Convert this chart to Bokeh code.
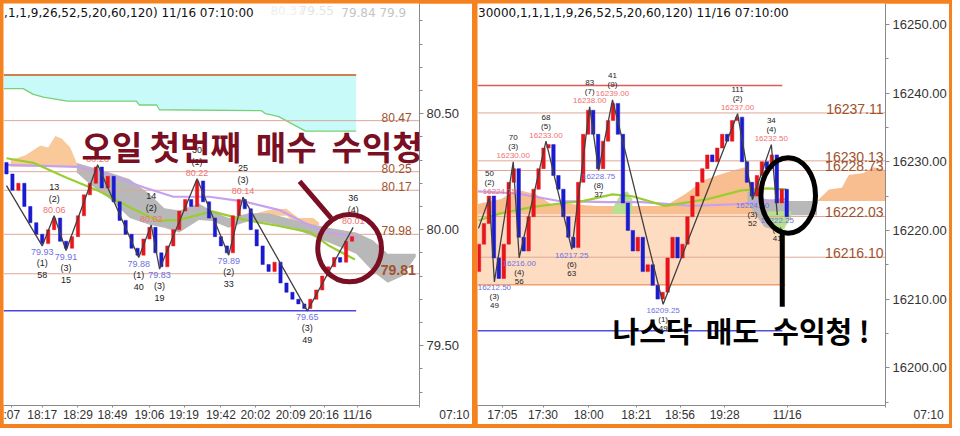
from bokeh.plotting import figure
from bokeh.layouts import row
from bokeh.models import ColumnDataSource, Label, FixedTicker, Range1d, NumeralTickFormatter
from bokeh.core.properties import value
from bokeh.embed import file_html
from bokeh.resources import INLINE

# ================= LEFT PANEL DATA (oil, 1-min bars) =================
L_close = [80.24, 80.17, 80.20, 80.10, 80.03, 79.98, 79.94, 80.00, 80.05, 79.95,
           79.92, 79.97, 80.06, 80.15, 80.20, 80.27, 80.18, 80.23, 80.12, 80.04,
           79.98, 79.92, 79.89, 79.96, 80.01, 79.90, 79.84, 79.93, 80.00, 80.08,
           80.13, 80.10, 80.21, 80.12, 80.05, 79.97, 79.93, 79.90, 80.06, 80.13,
           80.09, 80.00, 79.93, 79.85, 79.82, 79.86, 79.77, 79.73, 79.70, 79.68,
           79.66, 79.70, 79.74, 79.80, 79.84, 79.88, 79.86, 79.95, 79.97]
L_open0 = 80.29
L_piv_x = [0, 6, 8, 10, 15.3, 22.2, 24.3, 25.7, 32, 37.3, 39.7, 50.5, 58.2]
L_piv_y = [80.19, 79.93, 80.06, 79.91, 80.28, 79.88, 80.02, 79.83, 80.22, 79.89, 80.14, 79.65, 80.01]
L_waves = ["", "(1)", "(2)", "(3)", "", "(1)", "(2)", "(3)", "(1)", "(2)", "(3)", "(3)", "(4)"]
L_cnts = ["", "58", "13", "15", "", "40", "14", "19", "30", "33", "25", "49", "36"]
L_ma_p_x = [0, 12, 17, 23, 28, 34, 40, 46, 51, 54, 59]
L_ma_p_y = [80.279, 80.271, 80.238, 80.183, 80.142, 80.142, 80.121, 80.083, 80.017, 79.988, 79.967]
L_ma_g_x = [0, 4.5, 10, 15.5, 21, 25.5, 29, 34.5, 40, 45.5, 51, 54, 58.5]
L_ma_g_y = [80.308, 80.288, 80.225, 80.167, 80.092, 80.038, 80.042, 80.079, 80.042, 80.017, 79.988, 79.933, 79.871]
L_gray_x = [11.8, 14, 17.3, 20.7, 24, 26.5, 29, 32.3, 34.5, 37.3, 40.7, 44, 49, 54, 58.7, 61.5, 64, 66.5, 68.7]
L_gray_top = [80.2875, 80.271, 80.246, 80.217, 80.154, 80.092, 80.083, 80.113, 80.079, 80.05, 80.071,
              80.071, 80.0375, 80.008, 79.9875, 79.954, 79.896, 79.896, 79.896]
L_gray_bot = [80.246, 80.196, 80.133, 80.05, 80.021, 80.008, 79.9875, 80.042, 80.0375, 80.008, 80.0375,
              80.029, 79.996, 79.946, 79.896, 79.821, 79.771, 79.8, 79.883]
L_peach_x = [0.7, 3.2, 5.7, 7, 8.2, 9.3, 10.7, 11.8]
L_peach_top = [80.30, 80.321, 80.3625, 80.354, 80.404, 80.392, 80.354, 80.2875]
L_peach_bot = [80.271, 80.271, 80.271, 80.271, 80.271, 80.271, 80.271, 80.271]
L_peach2_x = [41.8, 44, 47, 49, 51.5, 52.5]
L_peach2_top = [80.07, 80.085, 80.09, 80.05, 80.05, 80.03]
L_peach2_bot = [80.05, 80.06, 80.06, 80.02, 80.02, 80.02]
L_cyan_x = [-0.5, 2.8, 4.5, 6.2, 10.2, 21.8, 22.3, 25.2, 25.7, 42.8, 43.5, 45.7, 50.2, 58.7]
L_cyan_bot = [80.608, 80.608, 80.583, 80.571, 80.554, 80.554, 80.5375, 80.5375, 80.517, 80.513, 80.5,
              80.4875, 80.425, 80.425]
L_cyan_top = 80.667
L_hi_line = 80.667
L_lo_line = 79.65
L_line_end = 58.7
L_levels = [80.47, 80.25, 80.17, 79.98, 79.81]
L_xticks = [0.9, 6, 12, 17.8, 24, 29.8, 36, 41.8, 47.7, 53.3, 58.9, 69.3]
L_xlabels = [":07", "18:17", "18:29", "18:49", "19:06", "19:19", "19:42", "20:02", "20:09", "20:16", "11/16",
             "\u00a0" * 21 + "07:10"]
L_yticks = [79.5, 80.0, 80.5]
L_yminor = [79.3, 79.4, 79.6, 79.7, 79.8, 79.9, 80.1, 80.2, 80.3, 80.4, 80.6, 80.7, 80.8, 80.9]
L_title = ",1,1,9,26,52,5,20,60,120) 11/16 07:10:00"
L_quotes = ["80.37", "79.55", "79.84 79.9"]
L_note = "오일 첫번째\u00a0\u00a0매수\u00a0\u00a0수익청"

# ================= RIGHT PANEL DATA (Nasdaq, 1-min bars) =================
R_close = [16218, 16221, 16225, 16216, 16213, 16218, 16227, 16229, 16219, 16217,
           16222, 16226, 16229, 16232, 16232.5, 16228, 16226, 16222, 16219, 16217.5,
           16227, 16234, 16237.5, 16234, 16229, 16233, 16236, 16238.5, 16234, 16224,
           16220, 16217, 16219, 16214, 16215, 16212, 16210, 16211, 16216, 16219,
           16216, 16218, 16222, 16225, 16227, 16229, 16231, 16230, 16232, 16234,
           16233, 16236, 16236.5, 16230, 16227, 16225, 16228, 16230, 16229, 16231,
           16224, 16226, 16222]
R_open0 = 16214
R_piv_x = [0.4, 2.6, 3.6, 7.4, 8.6, 14, 19.2, 22.8, 24.6, 27.4, 37.6, 52.6, 55.6, 59.4, 60.6]
R_piv_y = [16220.3, 16224.75, 16212.50, 16230.00, 16216.00, 16233.00, 16217.25, 16238.00, 16228.75,
           16239.00, 16209.25, 16237.00, 16224.50, 16232.50, 16222.25]
R_waves = ["", "(2)", "(3)", "(3)", "(4)", "(5)", "(6)", "(7)", "(8)", "(9)", "(1)", "(2)", "(3)", "(4)", "(5)"]
R_cnts = ["", "50", "49", "70", "56", "68", "63", "83", "37", "41", "49", "111", "52", "34", "41"]
R_ma_g_x = [0.4, 4.6, 11.4, 16, 21.4, 27.4, 31.4, 38, 46.6, 53.4, 58.6, 62.4]
R_ma_g_y = [16221.45, 16222.44, 16223.43, 16223.85, 16224.27, 16225.26, 16224.98, 16223.57, 16224.56,
            16225.83, 16226.11, 16225.97]
R_ma_p_x = [0.2, 8, 16.6, 26.6, 33.4, 43.4, 53.4, 58, 62.4]
R_ma_p_y = [16225.69, 16225.40, 16224.28, 16224.13, 16224.13, 16223.57, 16223.85, 16224.28, 16224.56]
R_base_x = [0.2, 62.2]
R_base_top = 16222.4
R_base_bot = 16212.1
R_orange_x = [0.2, 5, 8, 12, 15, 19, 24, 32, 38, 42, 46, 50, 54, 56, 57]
R_orange_top = [16223.85, 16224.56, 16225.97, 16225.26, 16223.85, 16223.85, 16223.57, 16223.57, 16223.57,
                16225.26, 16227.38, 16228.37, 16229.21, 16225.97, 16224.56]
R_green1_x = [27.4, 29, 30.4, 31.4]
R_green1_top = [16223.15, 16225.26, 16225.69, 16224.56]
R_gray_x = [54.6, 58, 61, 63.4, 68.6]
R_gray_top = [16225.7, 16224.6, 16224.3, 16224.3, 16224.3]
R_gray_bot = [16224.0, 16220.5, 16219.9, 16222.2, 16222.2]
R_green2_x = [58.6, 61, 63.4]
R_green2_top = [16222.8, 16222.8, 16222.8]
R_green2_bot = [16222.4, 16219.3, 16221.8]
R_future_x = [68.6, 71, 73.6, 75, 78, 80, 82.4]
R_future_top = [16224.27, 16225.97, 16226.2, 16228.08, 16228.37, 16229.21, 16228.79]
R_future_bot = 16224.27
R_hi_line = 16241.1
R_lo_line = 16205.4
R_line_end = 61.6
R_levels = [16237.11, 16230.13, 16228.73, 16222.03, 16216.10]
R_xticks = [5.2, 13.4, 22.6, 32.2, 41, 50, 62.6, 82.35]
R_xlabels = ["17:05", "17:30", "18:00", "18:21", "18:56", "19:28", "11/16", "\u00a0" * 26 + "07:10"]
R_yticks = [16200, 16210, 16220, 16230, 16240, 16250]
R_yminor = [16195, 16205, 16215, 16225, 16235, 16245]
R_title = "30000,1,1,1,1,9,26,52,5,20,60,120) 11/16 07:10:00"
R_note = "나스닥\u00a0\u00a0매도\u00a0\u00a0수익청\u00a0!"

# annotation placements (data coords)
L_circle = (57.6, 79.92, 10.7, 0.29)
L_pointer = (49.2, 80.208, 54.5, 80.05)
L_note_pos = (12.6, 80.3625)
R_circle = (62.8, 16225.1, 11.0, 11.0)
R_pointer = (61.6, 16219.6, 61.6, 16208.9)
R_note_pos = (27.4, 16205.5)

ORANGE = "#F5821F"
UP = "#E8141C"
DOWN = "#1A1AD0"
LEVEL_LINE = "#DDA898"
LEVEL_TXT = "#A0522D"
FONT = "Liberation Sans"


def base_fig(w, h, xr, yr, rb):
    p = figure(width=w, height=h, x_range=Range1d(*xr), y_range=Range1d(*yr),
               y_axis_location="right", output_backend="svg", toolbar_location=None,
               title=None, min_border_left=0, min_border_top=0, min_border_right=rb,
               min_border_bottom=12)
    p.grid.visible = False
    p.outline_line_color = None
    p.background_fill_color = "white"
    p.border_fill_color = "white"
    for ax in (p.xaxis[0], p.yaxis[0]):
        ax.axis_line_color = "#8A8A8A"
        ax.major_tick_line_color = "#8A8A8A"
        ax.minor_tick_line_color = "#8A8A8A"
        ax.major_label_text_font = FONT
        ax.major_label_text_color = "#333333"
        ax.major_label_text_font_size = "13px"
    p.yaxis.major_tick_in = 0
    p.yaxis.major_tick_out = 4
    p.yaxis.minor_tick_in = 0
    p.yaxis.minor_tick_out = 3
    p.yaxis.major_label_standoff = 3
    p.xaxis.major_tick_in = 0
    p.xaxis.major_tick_out = 2
    p.xaxis.minor_tick_line_color = None
    p.xaxis.major_label_standoff = 0
    p.xaxis.major_label_text_font_size = "12px"
    return p


def candles(p, xs, open0, closes, width):
    opens = [open0] + closes[:-1]
    cols = [UP if c >= o else DOWN for o, c in zip(opens, closes)]
    src = ColumnDataSource(dict(x=xs, top=[max(o, c) for o, c in zip(opens, closes)],
                                bot=[min(o, c) for o, c in zip(opens, closes)], c=cols))
    p.vbar(x="x", top="top", bottom="bot", width=width, fill_color="c", line_color="c",
           line_width=0.5, source=src)


def pivots(p, px, py, waves, cnts, offs, size, xmin):
    xs, ys, ts, cs, yo, xo = [], [], [], [], [], []
    for k in range(1, len(px)):
        hi = py[k] > py[k - 1]
        s = -1 if hi else 1
        items = [(f"{py[k]:.2f}", "#F07070" if hi else "#7070E0", offs[0]),
                 (waves[k], "#222222", offs[1]), (cnts[k], "#222222", offs[2])]
        for t, c, o in items:
            if t:
                xs.append(px[k]); ys.append(py[k]); ts.append(t); cs.append(c); yo.append(s * o)
                # keep labels near the left frame edge fully inside the plot
                xo.append(10 if (px[k] - xmin < 3 and len(t) > 4) else 0)
    src = ColumnDataSource(dict(x=xs, y=ys, t=ts, c=cs, yo=yo, xo=xo))
    p.text(x="x", y="y", text="t", text_color="c", y_offset="yo", x_offset="xo", text_align="center",
           text_baseline="middle", text_font=value(FONT), text_font_size=size, source=src)


# ---------------- LEFT FIGURE ----------------
L_yr = (79.242, 80.975)
pL = base_fig(469, 421, (-0.5, 69.33), L_yr, 53)
pL.yaxis.ticker = FixedTicker(ticks=L_yticks, minor_ticks=L_yminor)
pL.yaxis.formatter = NumeralTickFormatter(format="0.00")
pL.xaxis.ticker = FixedTicker(ticks=L_xticks)
pL.xaxis.major_label_overrides = {t: s for t, s in zip(L_xticks, L_xlabels)}

pL.varea(x=L_cyan_x, y1=L_cyan_bot, y2=[L_cyan_top] * len(L_cyan_x), fill_color="#C8FAFA")
pL.line(L_cyan_x, L_cyan_bot, line_color="#78D078", line_width=1.3)
pL.line([-0.5, L_line_end], [L_hi_line, L_hi_line], line_color="#D0804A", line_width=2)
pL.varea(x=L_peach_x, y1=L_peach_bot, y2=L_peach_top, fill_color="#F9C99A")
pL.varea(x=L_peach2_x, y1=L_peach2_bot, y2=L_peach2_top, fill_color="#F9C99A")
pL.varea(x=L_gray_x, y1=L_gray_bot, y2=L_gray_top, fill_color="#B8B8B8")
for lv in L_levels:
    pL.line([-0.5, 69.33], [lv, lv], line_color=LEVEL_LINE, line_width=1)
pL.line([-0.5, L_line_end], [L_lo_line, L_lo_line], line_color="#4848E0", line_width=1.5)
pL.line(L_ma_p_x, L_ma_p_y, line_color="#C8A0F0", line_width=2.2)
pL.line(L_ma_g_x, L_ma_g_y, line_color="#9ACD32", line_width=2.2)
candles(pL, list(range(len(L_close))), L_open0, L_close, 0.55)
pL.line(L_piv_x, L_piv_y, line_color="#404040", line_width=1.3)
pivots(pL, L_piv_x, L_piv_y, L_waves, L_cnts, (6, 17, 29), "9px", -0.5)
pL.text(x=[68.0] * 4, y=L_levels[:4], text=[f"{v:.2f}" for v in L_levels[:4]], text_align="right",
        text_baseline="bottom", y_offset=1, text_color=LEVEL_TXT, text_font=value(FONT),
        text_font_size="12px")
pL.text(x=[68.7], y=L_levels[4:], text=[f"{v:.2f}" for v in L_levels[4:]], text_align="right",
        text_baseline="bottom", y_offset=1, text_color=LEVEL_TXT, text_font=value(FONT),
        text_font_size="14px", text_font_style="bold")
pL.text(x=[-0.4], y=[L_yr[1]], text=[L_title], text_align="left", text_baseline="top", y_offset=2,
        text_color="#111111", text_font=value("DejaVu Sans"), text_font_size="12px")
pL.text(x=[44.3, 49.2, 56.2], y=[L_yr[1]] * 3, text=L_quotes, text_align="left", text_baseline="top",
        y_offset=2, text_color=["#EEEEEE", "#E4E4E4", "#C4C4C4"], text_font=value("DejaVu Sans"),
        text_font_size="12px")
pL.segment(x0=[L_pointer[0]], y0=[L_pointer[1]], x1=[L_pointer[2]], y1=[L_pointer[3]],
           line_color="#7A0E22", line_width=5)
pL.ellipse(x=[L_circle[0]], y=[L_circle[1]], width=[L_circle[2]], height=[L_circle[3]],
           fill_color=None, line_color="#7A0E22", line_width=5)
pL.add_layout(Label(x=L_note_pos[0], y=L_note_pos[1], text=L_note, text_font="Noto Sans CJK KR",
                    text_font_style="bold", text_font_size="33px", text_color="#7A0E22",
                    text_baseline="middle", text_align="left"))

# ---------------- RIGHT FIGURE ----------------
R_yr = (16194.5, 16253.05)
pR = base_fig(472, 421, (0.2, 82.4), R_yr, 61)
pR.yaxis.ticker = FixedTicker(ticks=R_yticks, minor_ticks=R_yminor)
pR.yaxis.formatter = NumeralTickFormatter(format="0.00")
pR.xaxis.ticker = FixedTicker(ticks=R_xticks)
pR.xaxis.major_label_overrides = {t: s for t, s in zip(R_xticks, R_xlabels)}

pR.varea(x=R_base_x, y1=[R_base_bot] * 2, y2=[R_base_top] * 2, fill_color="#FDDCC2")
pR.line(R_base_x, [R_base_bot] * 2, line_color="#F0A070", line_width=1.5)
pR.varea(x=R_orange_x, y1=[R_base_top] * len(R_orange_x), y2=R_orange_top, fill_color="#F8BE90")
pR.varea(x=R_green1_x, y1=[R_base_top] * len(R_green1_x), y2=R_green1_top, fill_color="#B8E090")
pR.varea(x=R_gray_x, y1=R_gray_bot, y2=R_gray_top, fill_color="#B8B8B8")
pR.varea(x=R_green2_x, y1=R_green2_bot, y2=R_green2_top, fill_color="#B8E090")
pR.varea(x=R_future_x, y1=[R_future_bot] * len(R_future_x), y2=R_future_top, fill_color="#F8BE90")
for lv in R_levels:
    pR.line([0.2, 82.4], [lv, lv], line_color=LEVEL_LINE, line_width=1)
pR.line([0.2, R_line_end], [R_hi_line, R_hi_line], line_color="#E05A5A", line_width=1.5)
pR.line([0.2, R_line_end], [R_lo_line, R_lo_line], line_color="#5050E0", line_width=1.5)
pR.line(R_ma_p_x, R_ma_p_y, line_color="#C8A0F0", line_width=2.2)
pR.line(R_ma_g_x, R_ma_g_y, line_color="#9ACD32", line_width=2.2)
candles(pR, [k + 0.5 for k in range(len(R_close))], R_open0, R_close, 0.7)
pR.line(R_piv_x, R_piv_y, line_color="#404040", line_width=1.3)
pivots(pR, R_piv_x, R_piv_y, R_waves, R_cnts, (6, 15, 24), "8px", 0.2)
pR.text(x=[82.0] * 5, y=R_levels, text=[f"{v:.2f}" for v in R_levels], text_align="right",
        text_baseline="bottom", y_offset=1, text_color=LEVEL_TXT, text_font=value(FONT),
        text_font_size="14px")
pR.text(x=[0.3], y=[R_yr[1]], text=[R_title], text_align="left", text_baseline="top", y_offset=2,
        text_color="#111111", text_font=value("DejaVu Sans"), text_font_size="12px")
pR.segment(x0=[R_pointer[0]], y0=[R_pointer[1]], x1=[R_pointer[2]], y1=[R_pointer[3]],
           line_color="#000000", line_width=5)
pR.ellipse(x=[R_circle[0]], y=[R_circle[1]], width=[R_circle[2]], height=[R_circle[3]],
           fill_color=None, line_color="#000000", line_width=5)
pR.add_layout(Label(x=R_note_pos[0], y=R_note_pos[1], text=R_note, text_font="Noto Sans CJK KR",
                    text_font_style="bold", text_font_size="29px", text_color="#000000",
                    text_baseline="middle", text_align="left"))

pL.margin = (3, 0, 4, 3)
pR.margin = (3, 3, 4, 5)
layout = row(pL, pR, spacing=0, styles={"background-color": ORANGE})

open("out.html", "w").write(file_html(layout, INLINE))
